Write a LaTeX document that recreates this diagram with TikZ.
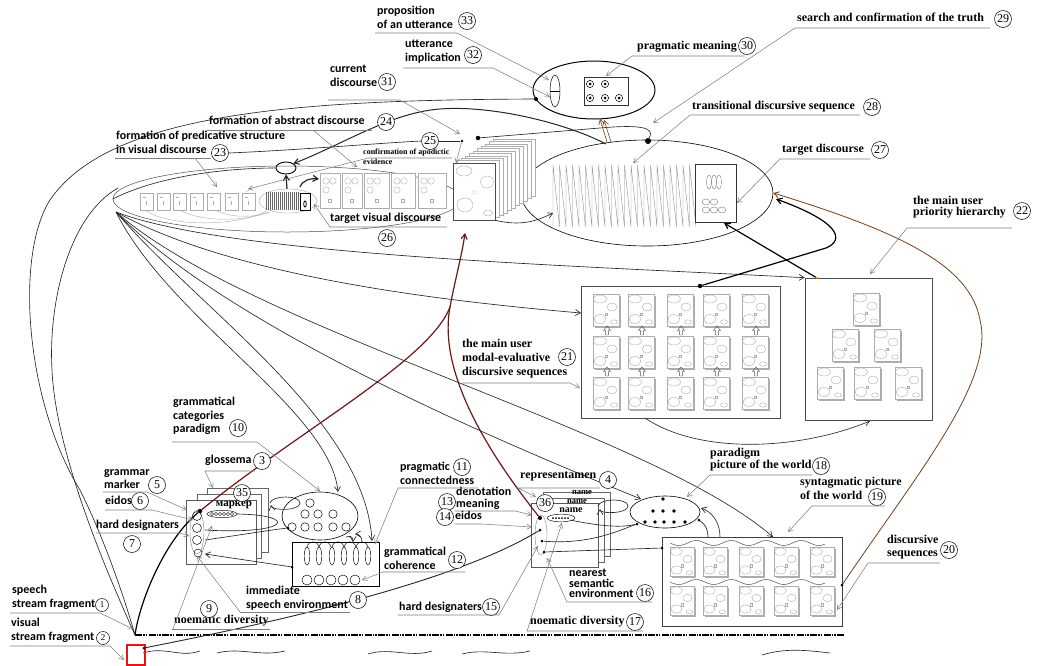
\documentclass[tikz,border=0pt]{standalone}
\usepackage{fontspec}
\setmainfont{Liberation Serif}
\newfontfamily\carl{Carlito}
\usetikzlibrary{arrows.meta,calc,shapes.geometric}
\definecolor{leadc}{gray}{0.5}
\definecolor{cardc}{gray}{0.68}
\definecolor{dred}{RGB}{110,22,22}
\definecolor{brn}{RGB}{115,62,25}
\definecolor{rbox}{RGB}{235,20,20}
\tikzset{
  lab/.style={font=\carl\bfseries\fontsize{12}{13.5}\selectfont, align=left, inner sep=0pt, anchor=north west},
  labs/.style={font=\bfseries\fontsize{12}{13}\selectfont, align=left, inner sep=0pt, anchor=north west},
  num/.style={circle, draw, line width=0.5pt, inner sep=0pt, minimum size=17pt, fill=white, font=\fontsize{12}{12}\selectfont},
  ul/.style={draw=leadc, line width=0.55pt},
  lead/.style={draw=leadc, line width=0.55pt, -{Straight Barb[length=4.5pt,width=5pt]}},
  conn/.style={draw=black!85, line width=0.65pt},
  tip/.style={-{Straight Barb[length=5pt,width=6pt]}},
  thk/.style={line width=1.2pt},
  cardl/.style={draw=cardc, line width=0.4pt},
  cardf/.style={draw=cardc, line width=0.45pt, fill=white},
  bdot/.style={circle, fill=black, inner sep=0pt, minimum size=#1},
  bdot/.default=3.5pt,
  mcard/.pic={
    \draw[cardf] (0,0) rectangle (26,32);
    \draw[cardl] (27,2) -- (27,33) -- (2,33);
    \draw[cardl] (7,5) ellipse (6.5 and 4);
    \draw[cardl] (19,13) ellipse (5 and 4);
    \draw[cardl] (12,19) rectangle (14.5,21.5);
    \draw[cardl] (7,25) ellipse (6 and 4.5);
    \draw[cardl] (21,28) ellipse (3.5 and 2.2);
  },
}
\begin{document}
\begin{tikzpicture}[x=1pt,y=-1pt]
\useasboundingbox (0,0) rectangle (1042,665);

% ================= utterance ellipse =================
\node[ellipse, draw, line width=1pt, minimum width=122pt, minimum height=58pt, inner sep=0pt] (utt) at (594,90) {};
\node[ellipse, draw, line width=0.5pt, minimum width=10pt, minimum height=32pt, inner sep=0pt] (prop) at (555,91) {};
\draw[line width=0.5pt] (prop.west) -- (prop.east);
\node[draw=black!80, line width=0.5pt, minimum width=44pt, minimum height=28pt, inner sep=0pt] (pm) at (606,91) {};
\foreach \px/\py in {590/84,605/84,590/98,605/98,619/98}{
  \draw[line width=0.5pt] (\px,\py) circle (3.6); \fill (\px,\py) circle (1.5);}
\node[bdot=4pt] (ud) at (536,99) {};

% ================= transitional ellipse =================
\node[ellipse, draw, line width=0.6pt, minimum width=252pt, minimum height=106pt, inner sep=0pt] (tre) at (647,193) {};
\draw[draw=black!45, line width=0.4pt] (553,227) \foreach \i in {0,...,21}{ -- ({553+6.5*\i},165) -- ({559.5+6.5*\i},227)};
\node[draw=black!80, fill=white, line width=0.6pt, minimum width=41pt, minimum height=58pt, inner sep=0pt] (tgt) at (715.5,193) {};
\foreach \px in {709,714,719} \draw[cardl, draw=black!50] (\px,182) ellipse (2.4 and 7);
\foreach \px/\py in {706/202,714/202,706/210,714/210,722/210} \draw[cardl, draw=black!50] (\px,\py) ellipse (3.8 and 3);
\node[bdot=6pt] (d3) at (648,141) {};
\node[bdot=4.5pt] (d2) at (478,138) {};
\node[bdot=2.8pt] (d1) at (462,141) {};

% ================= visual discourse ellipse =================
\node[ellipse, draw=black!70, line width=0.5pt, minimum width=348pt, minimum height=66pt, inner sep=0pt] (vel) at (287,199) {};
\foreach \px in {140,157,173,190,207,225,242}{
  \draw[cardf] (\px,193) rectangle ++(13,17);
  \draw[cardl] (\px+3,197) -- ++(3,0) (\px+6,201) -- ++(0,4);}
\draw[cardl] (145,210) .. controls (170,228) and (240,226) .. (266,211);
\draw[cardl] (180,210) .. controls (200,222) and (245,222) .. (268,212);
\draw[cardl] (215,210) .. controls (230,218) and (255,218) .. (270,212);
\draw[cardl] (246,192) -- (252,188) -- (258,188);
\node[ellipse, draw=black!35, minimum width=58pt, minimum height=24pt, inner sep=0pt] (hat) at (288,201) {};
\foreach \px in {266,268,...,298} \draw[black!60, line width=0.35pt] (\px,192) -- (\px,210);
\node[draw, fill=white, line width=1pt, minimum width=10pt, minimum height=17pt, inner sep=0pt] (tvd) at (305,201.5) {};
\draw[line width=0.8pt] (305,204) ellipse (1.3 and 3);
\node[ellipse, draw, line width=0.9pt, minimum width=20pt, minimum height=12pt, inner sep=0pt] (se) at (286,168) {};
\foreach \a/\b in {320/340,342/362,364/389,391/415,418/446}{
  \draw[cardf] (\a,173) rectangle (\b,208);
  \draw[cardl] (\a+6,181) circle (3.2) (\a+13,181) circle (3.2) (\a+6,190) circle (3.2);
  \draw[cardl] ({(\a+\b)/2-1.5},199) rectangle ++(3,3);}
\foreach \i in {10,9,...,1}{ \draw[cardf] ({453+4*\i},{163-2.4*\i}) rectangle ++(42,57); }
\node[draw=black!70, fill=white, line width=0.6pt, minimum width=42pt, minimum height=57pt, inner sep=0pt] (stk) at (474,191.5) {};
\draw[cardl] (464,171) ellipse (8 and 5) (487,182) ellipse (6.5 and 6) (465,205) ellipse (8 and 7) (488,213) ellipse (4.5 and 3) (473,191) rectangle ++(3,3);

% ================= modal-evaluative rectangle =================
\node[draw=black!70, line width=0.6pt, minimum width=199pt, minimum height=132pt, inner sep=0pt] (mod) at (680.5,352) {};
\foreach \px in {593,628,667,703,742} \foreach \py in {294,336,377} \pic at (\px,\py) {mcard};
\foreach \px in {607,642,681,717,756} \foreach \py in {335,376}{
  \draw[black!70, line width=0.45pt] (\px-1.4,\py) -- (\px-1.4,\py-4.5) -- (\px-3.5,\py-4.5) -- (\px,\py-9) -- (\px+3.5,\py-4.5) -- (\px+1.4,\py-4.5) -- (\px+1.4,\py) -- cycle;}
\node[bdot=4.5pt] (d21) at (700,286) {};

% ================= priority hierarchy =================
\node[draw=black!70, line width=0.6pt, minimum width=127pt, minimum height=142pt, inner sep=0pt] (hier) at (868.5,349) {};
\foreach \px/\py in {853/293,832/329,874/329,817/367,854/367,895/367} \pic at (\px,\py) {mcard};
\node[circle, fill=orange, inner sep=0pt, minimum size=2.5pt] (o22) at (817,278) {};

% ================= discursive sequences =================
\node[draw=black!75, line width=0.6pt, minimum width=180pt, minimum height=89pt, inner sep=0pt] (dsq) at (752,581.5) {};
\foreach \px in {670,703,739,774,810} \foreach \py in {547,586} \pic[scale=0.92] at (\px,\py) {mcard};
\draw[black!70, line width=0.5pt] plot[domain=670:825, samples=80] (\x, {543 + 2.5*sin((\x-670)*10.2857)});
\draw[black!70, line width=0.5pt] plot[domain=670:825, samples=80] (\x, {582 + 2.5*sin((\x-670)*10.2857)});
\node[bdot=3pt] (d20) at (842,585) {};
\node[bdot=3pt] (d20l) at (662,548) {};

% ================= paradigm picture ellipse =================
\node[ellipse, draw, line width=0.6pt, minimum width=70pt, minimum height=32pt, inner sep=0pt] (pw) at (665,512) {};
\foreach \px/\py in {663/499,653/511,663/511,674/511,645/522,655/522,664/522,674/522,685/522}
  \fill (\px,\py) circle (1.9);
\node[bdot=3pt] (pwl) at (637,524) {};
\node[bdot=3pt] (pwr) at (699,520) {};

% ================= grammar paradigm ellipse and coherence =================
\node[ellipse, draw, line width=0.6pt, minimum width=76pt, minimum height=48pt, inner sep=0pt] (gp) at (320,516) {};
\foreach \px/\py in {310/503,305/514,318/514,333/514,292/527,305/527,318/527,333/527,346/527}
  \draw[line width=0.5pt] (\px,\py) circle (4.2);
\node[bdot=3pt] (gpd) at (288,528) {};
\node[draw, line width=0.6pt, minimum width=87pt, minimum height=44pt, inner sep=0pt] (gc) at (335.5,564) {};
\foreach \px in {307,319,332,344,356,368} \draw[line width=0.45pt] (\px,556) ellipse (2.8 and 9);
\foreach \px in {307,319,332,344,356} \draw[line width=0.45pt] (\px,547) .. controls (\px+2,540) and (\px+10,540) .. (\px+12,547);
\foreach \px in {307,319,331,343,355} \draw[line width=0.45pt] (\px,580) circle (5);
\node[bdot=3pt] (gcd) at (292,567) {};
\draw[conn, tip] (346,537) .. controls (352,535) and (353,538) .. (353,542);
\draw[conn, tip] (362,542) .. controls (362,537) and (359,534) .. (355,534);

% ================= card stack 35 =================
\draw[cardf, draw=black!60] (207,488) rectangle ++(61,64);
\draw[cardf, draw=black!60] (197,494) rectangle ++(64,64);
\node[draw=black!65, fill=white, line width=0.5pt, minimum width=70pt, minimum height=64pt, inner sep=0pt] (c35) at (221,532) {};
\draw[cardl, draw=black!50] (197,532) ellipse (7 and 22);
\foreach \py in {516,528,540} \draw[line width=0.45pt] (197,\py) circle (4.5);
\draw[line width=0.45pt] (198,553) circle (4);
\draw[line width=0.45pt] (222,514) ellipse (15 and 3.6);
\foreach \px in {212,216,220,224,228,232} \draw[line width=0.35pt] (\px,514) circle (1.6);
\node[font=\bfseries\fontsize{11}{12}\selectfont, inner sep=0pt] (mk) at (234,505.5) {маркер};
\node[bdot=4.5pt] (d35) at (200,511) {};

% ================= card stack 36 =================
\draw[cardf, draw=black!60] (543,492) rectangle ++(67,64);
\node[font=\bfseries\fontsize{8.5}{9}\selectfont, inner sep=0pt] (nm3) at (582,493) {name};
\draw[cardf, draw=black!60] (537,498) rectangle ++(67,64);
\node[font=\bfseries\fontsize{8.5}{9}\selectfont, inner sep=0pt] (nm2) at (577,501.5) {name};
\node[draw=black!65, fill=white, line width=0.5pt, minimum width=67pt, minimum height=64pt, inner sep=0pt] (c36) at (564.5,535) {};
\node[font=\bfseries\fontsize{10}{11}\selectfont, inner sep=0pt] (nm1) at (571,510) {name};
\draw[cardl, draw=black!50] (541,535) ellipse (6 and 20);
\draw[line width=0.45pt] (561,518) ellipse (14 and 3.8);
\foreach \px in {553,556,559,562,565,568} \fill (\px,518) circle (1);
\node[bdot=4pt] (d36) at (540,518) {};
\node[bdot=3pt] (d36b) at (540,530) {};
\node[bdot=3pt] (d36c) at (542,541) {};
\node[bdot=3pt] (d36d) at (544,552) {};

% ================= bottom stream =================
\coordinate (sp) at (135,635);
\draw[line width=1.8pt, dash pattern=on 7pt off 1.3pt on 1.3pt off 1.3pt on 1.3pt off 1.3pt] (sp) -- (845,635);
\draw[conn] (143,653) .. controls (165,646) and (180,658) .. (200,651);
\draw[conn] (217,653) .. controls (240,647) and (260,657) .. (285,651);
\draw[conn] (368,654) .. controls (390,647) and (410,658) .. (432,651);
\draw[conn] (462,654) .. controls (485,648) and (505,657) .. (530,651);
\draw[conn] (762,655) .. controls (785,648) and (805,650) .. (830,653);

% ================= main connectors =================
\coordinate (vt) at (116,212);
\draw[conn] (ud) .. controls (300,100) and (110,112) .. (50,200) .. controls (15,255) and (25,400) .. (80,490) .. controls (105,540) and (125,600) .. (sp);
\draw[conn] (118,188) .. controls (70,215) and (48,300) .. (52,370) .. controls (56,460) and (115,590) .. (sp);
\draw[conn] (vel.west) .. controls (160,175) and (230,168) .. (se.west);
\draw[conn, tip] (vt) .. controls (230,255) and (560,265) .. (hier.north west);
\draw[conn, tip] (vt) .. controls (230,275) and (430,300) .. (581,313);
\draw[conn, tip] (vt) .. controls (170,320) and (330,410) .. (338,492);
\draw[conn, tip] (vt) .. controls (200,310) and (365,420) .. (372,541);
\draw[conn, tip] (vt) .. controls (230,330) and (520,450) .. (641,499);
\draw[conn, tip] (vt) .. controls (250,330) and (650,430) .. (773,537);
% red
\draw[dred, thk] (d35) .. controls (300,430) and (430,360) .. (450,307);
\draw[dred, thk] (d36) .. controls (470,430) and (440,360) .. (450,307);
\draw[dred, thk, tip] (450,307) .. controls (455,280) and (462,255) .. (465,233);
\draw[black, thk] (d35) .. controls (165,540) and (140,600) .. (sp);
% top
\draw[conn, line width=1pt, tip] (606,144) .. controls (560,120) and (470,100) .. (420,112) .. controls (380,120) and (330,150) .. (se.north east);
\draw[conn] (d2) -- (600,128) .. controls (655,123) and (652,132) .. (d3);
\draw[brn, line width=0.6pt, tip] (607,142) -- (600,119);
\draw[brn, line width=0.6pt, tip] (611,142) -- (604,120);
\draw[conn, tip] (stk.south east) .. controls (520,226) and (535,222) .. (553,213);
\draw[conn, thk, tip] (300,187) .. controls (303,180) and (310,178) .. (319,179);
\draw[conn, thk, tip] (287,189) -- (se.south);
% right side
\draw[brn, line width=0.8pt, tip] (d20) .. controls (920,470) and (995,380) .. (980,320) .. controls (970,265) and (900,232) .. (tre.east);
\draw[black, thk, tip] (d21) -- (826,248) .. controls (845,240) and (840,222) .. (776,199);
\draw[black, thk, tip] (o22) -- (724,223);
\draw[conn, tip] (645,418) .. controls (700,455) and (800,450) .. (870,421);
% grammar local
\draw[conn, tip] (270,503) .. controls (272,495) and (300,495) .. (300,503) .. controls (300,511) and (272,511) .. (271,505);
\draw[conn] (237,514) .. controls (300,515) and (290,535) .. (205,530);
\draw[conn] (205,540) .. controls (240,535) and (270,530) .. (gpd);
\draw[conn, tip] (gcd) -- (205,554);
% name local
\draw[conn, tip] (598,506) .. controls (600,498) and (628,498) .. (628,506) .. controls (628,514) and (600,514) .. (600,509);
\draw[conn] (570,520) .. controls (600,526) and (620,528) .. (pwl);
\draw[conn] (d36c) .. controls (590,545) and (620,530) .. (pwl);
\draw[conn] (d36d) -- (d20l);
\draw[conn] (pwr) .. controls (706,525) and (708,530) .. (708,537);
\draw[conn, tip] (720,537) .. controls (720,522) and (712,512) .. (701,508);

% red box (visual stream fragment)
\node[draw=rbox, line width=1.1pt, minimum width=18pt, minimum height=20pt, inner sep=0pt] (rb) at (136,655) {};
\node[bdot=3pt] (rdot) at (144,648) {};
\draw[conn, line width=0.9pt] (d36b) .. controls (450,585) and (260,625) .. (rdot);

% ================= labels =================
\node[lab] (l33) at (377,6) {proposition\\of an utterance};
\node[lab] (l32) at (405,40) {utterance\\implication};
\node[lab] (l31) at (330,65) {current\\discourse};
\node[lab] (l24) at (209,116) {formation of abstract discourse};
\node[lab] (l23) at (116,131) {formation of predicative structure\\in visual discourse};
\node[lab] (l26) at (330,212.5) {target visual discourse};
\node[lab] (l10) at (173,397) {grammatical\\categories\\paradigm};
\node[lab] (l3) at (205,455) {glossema};
\node[lab] (l5) at (104,469) {grammar\\marker};
\node[lab] (l6) at (105,496) {eidos};
\node[lab] (l7) at (96,520) {hard designaters};
\node[lab] (l1) at (12,585) {speech\\stream fragment};
\node[lab] (l2) at (11,618) {visual\\stream fragment};
\node[lab] (l8) at (246,586) {immediate\\speech environment};
\node[lab] (l11) at (400,462) {pragmatic\\connectedness};
\node[lab] (l12) at (384,547) {grammatical\\coherence};
\node[lab, font=\carl\bfseries\fontsize{12}{12}\selectfont] (l13) at (456,487) {denotation\\meaning};
\node[lab] (l14) at (455,511) {eidos};
\node[lab] (l15) at (399,602) {hard designaters};
\node[lab, font=\carl\bfseries\fontsize{12}{10.5}\selectfont] (l16) at (569,569) {nearest\\semantic\\environment};
\node[labs] (l30) at (637,41) {pragmatic meaning};
\node[labs] (l29) at (797,13) {search and confirmation of the truth};
\node[labs] (l28) at (692,101) {transitional discursive sequence};
\node[labs] (l27) at (782,144) {target discourse};
\node[labs, font=\bfseries\fontsize{12}{11}\selectfont] (l22) at (913,196) {the main user\\priority hierarchy};
\node[labs, font=\bfseries\fontsize{12}{14}\selectfont] (l21) at (462,339) {the main user\\modal-evaluative\\discursive sequences};
\node[labs] (l9) at (174,615) {noematic diversity};
\node[labs] (l4) at (520,472) {representamen};
\node[labs] (l17) at (530,616) {noematic diversity};
\node[labs, font=\bfseries\fontsize{12}{12}\selectfont] (l18) at (710,448) {paradigm\\picture of the world};
\node[labs, font=\bfseries\fontsize{12}{14}\selectfont] (l19) at (800,477) {syntagmatic picture\\of the world};
\node[labs, font=\bfseries\fontsize{12}{13}\selectfont] (l20) at (887,535) {discursive\\sequences};
\node[labs, font=\bfseries\fontsize{8}{10}\selectfont] (lconf) at (363,149) {confirmation of apodictic\\evidence};

% ================= number circles =================
\foreach \nm/\px/\py/\t in {n33/467/21/33, n32/473/55/32, n31/387/82/31, n24/386/122/24, n23/220/153/23, n25/430/141/25, n26/387/238/26, n30/747/46/30, n29/1003/19/29, n28/872/107/28, n27/880/150/27, n22/1022/211/22, n21/567/357/21, n10/238/428/10, n3/262/461/3, n5/157/485/5, n6/140/501/6, n7/132/544/7, n9/209/609/9, n8/358/600/8, n11/462/467/11, n12/457/560/12, n4/608/480/4, n13/447/502/13, n14/445/517/14, n15/491/607/15, n16/645/593/16, n17/635/622/17, n18/821/466/18, n19/877/497/19, n20/949/550/20, n35/242/493/35, n36/545/503/36}
  \node[num] (\nm) at (\px,\py) {\t};
\node[num, minimum size=13pt, font=\fontsize{9}{9}\selectfont] (n1) at (102,605) {1};
\node[num, minimum size=13pt, font=\fontsize{9}{9}\selectfont] (n2) at (103,638) {2};
\draw[conn] (n23.east) .. controls (300,150) and (380,143) .. (n25.west);
\draw[conn] (n25.east) -- (d1);

% ================= leaders =================
\draw[lead] (375,33) -- (457,33) -- (549,80);
\draw[lead] (403,68) -- (493,68) -- (550,97);
\draw[lead] (328,100) -- (400,100) -- (460,134);
\draw[ul] (207,130) -- (372,130); \draw[lead] (313,130) -- (357,167);
\draw[ul] (115,158) -- (211,158); \draw[lead] (195,158) -- (217,187);
\draw[lead] (452,158) -- (368,158) -- (248,189);
\draw[lead] (447,227) -- (330,227) -- (314,204);
\draw[lead] (745,56) -- (632,56) -- (606,76);
\draw[lead] (990,28) -- (795,28) -- (653,123);
\draw[lead] (860,115) -- (690,115) -- (633,163);
\draw[lead] (870,159) -- (780,159) -- (737,203);
\draw[lead] (1012,228) -- (907,228) -- (870,274);
\draw[lead] (462,383) -- (570,383) -- (580,388);
\draw[lead] (172,442) -- (257,442) -- (320,491);
\draw[lead] (255,471) -- (205,471) -- (213,488);
\draw[lead] (103,492) -- (147,492) -- (187,510);
\draw[lead] (105,510) -- (152,510) -- (193,520);
\draw[lead] (96,533) -- (180,533) -- (189,536);
\draw[lead] (10,613) -- (100,613) -- (133,629);
\draw[lead] (10,646) -- (110,646) -- (124,660);
\draw[ul] (172,629) -- (270,629); \draw[lead] (173,629) -- (212,526);
\draw[ul] (240,612) -- (350,612); \draw[lead] (240,612) -- (197,556);
\draw[lead] (478,488) -- (398,488) -- (375,544);
\draw[lead] (465,572) -- (383,572) -- (362,580);
\draw[lead] (600,488) -- (518,488) -- (536,497);
\draw[lead] (455,511) -- (515,511) -- (532,515);
\draw[lead] (455,524) -- (482,524) -- (532,527);
\draw[lead] (398,615) -- (499,615) -- (538,546);
\draw[lead] (652,602) -- (567,602) -- (547,558);
\draw[lead] (643,631) -- (527,631) -- (562,523);
\draw[lead] (812,475) -- (710,475) -- (687,497);
\draw[lead] (885,506) -- (812,506) -- (788,532);
\draw[lead] (940,563) -- (868,563) -- (837,610);
\draw[lead] (d1) -- (456,163);
\end{tikzpicture}
\end{document}
